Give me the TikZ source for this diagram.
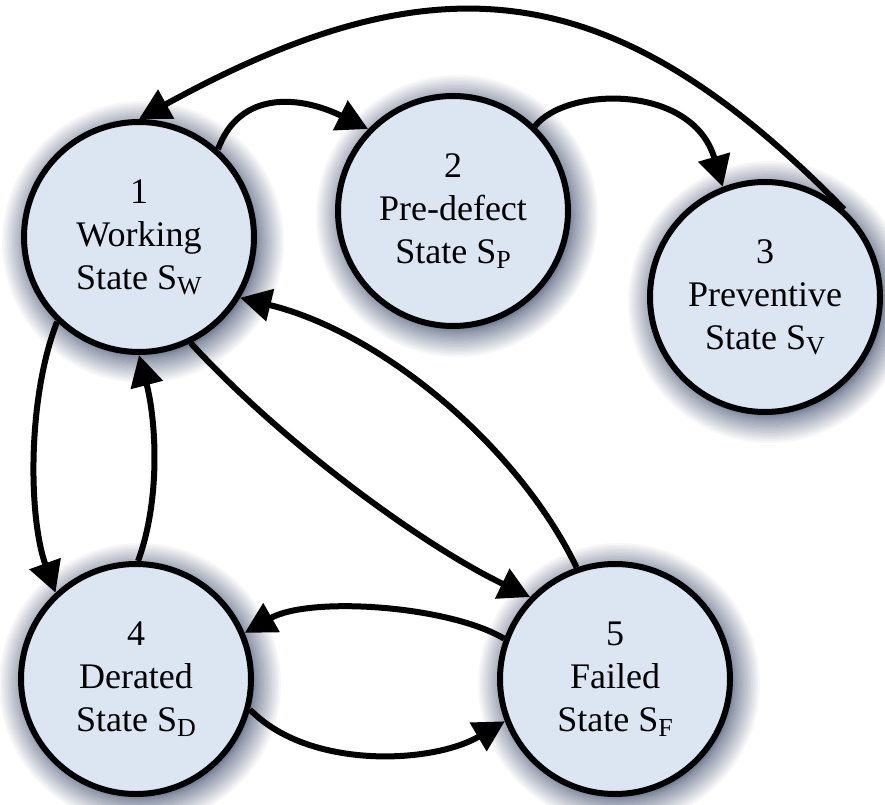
\documentclass[tikz,border=0pt]{standalone}
\usepackage{fontspec}
\setmainfont{Liberation Serif}
\usetikzlibrary{arrows.meta}
\pgfdeclarelayer{background}
\pgfsetlayers{background,main}

% lowered small capital used as a state index
\newcommand\stidx[1]{\raisebox{-5bp}{\fontsize{26bp}{26bp}\selectfont #1}}

\definecolor{statefill}{RGB}{220,230,242}
\definecolor{halocol}{RGB}{45,60,95}

\tikzset{
  state/.style={circle, draw=black, line width=6bp, fill=statefill,
    minimum size=230bp, inner sep=0pt, align=center,
    font=\fontsize{36bp}{43bp}\selectfont},
  trans/.style={line width=6bp, -{Triangle[length=31bp,width=32bp]}},
  halo/.style={fill=halocol, opacity=0.04}
}

\begin{document}
\begin{tikzpicture}[x=1bp, y=-1bp]
  \useasboundingbox (0,0) rectangle (885,805);

  \node[state] (n1) at (139,237) {1\\Working\\State S\stidx{W}};
  \node[state] (n2) at (453,211) {2\\Pre-defect\\State S\stidx{P}};
  \node[state] (n3) at (765,297) {3\\Preventive\\State S\stidx{V}};
  \node[state] (n4) at (136,679) {4\\Derated\\State S\stidx{D}};
  \node[state] (n5) at (615,679) {5\\Failed\\State S\stidx{F}};

  % soft glow behind every state, denser near the rim
  \begin{pgfonlayer}{background}
    \foreach \n in {n1,n2,n3,n4,n5}{
      \foreach \i in {1,...,26}{
        \pgfmathsetmacro\rr{113+28*(\i/26)^1.7}
        \fill[halo] ([shift={(4,5)}]\n.center) circle[radius=\rr bp];
      }
    }
  \end{pgfonlayer}

  % transitions
  \draw[trans] (n3.48)  .. controls +(-230,-235) and +(300,-165) .. (n1.90);
  \draw[trans] (n1.48)  .. controls +(22,-60)    and +(-67,-33)  .. (n2.136);
  \draw[trans] (n2.46)  .. controls +(32,-40)    and +(-30,-103) .. (n3.111);
  \draw[trans] (n1.226) .. controls +(-30,77)    and +(-27,-75)  .. (n4.133);
  \draw[trans] (n4.89)  .. controls +(23,-63)    and +(17,65)    .. (n1.270);
  \draw[trans] (n1.296) .. controls +(90,98)     and +(-110,-53) .. (n5.136);
  \draw[trans] (n5.109) .. controls +(-58,-120)  and +(143,35)   .. (n1.329);
  \draw[trans] (n5.160) .. controls +(-55,-33)   and +(65,-37)   .. (n4.23);
  \draw[trans] (n4.345) .. controls +(58,60)     and +(-73,43)   .. (n5.201);
\end{tikzpicture}
\end{document}
